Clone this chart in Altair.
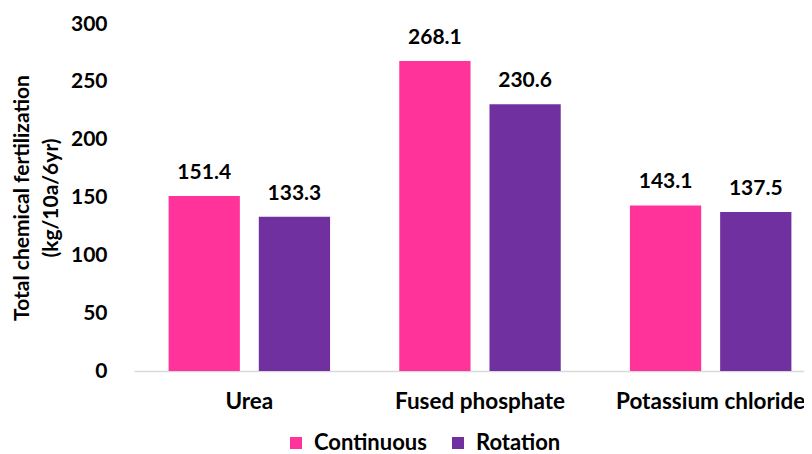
import altair as alt
import pandas as pd

categories = ["Urea", "Fused phosphate", "Potassium chloride"]
continuous = [151.4, 268.1, 143.1]
rotation = [133.3, 230.6, 137.5]
series = ["Continuous", "Rotation"]
colors = ["#FF3399", "#7030A0"]

rows = []
for i, c in enumerate(categories):
    rows.append({"cat": c, "series": "Continuous", "value": continuous[i]})
    rows.append({"cat": c, "series": "Rotation", "value": rotation[i]})
df = pd.DataFrame(rows)

FONT = "Lato"

base = alt.Chart(df).encode(
    x=alt.X("cat:N", sort=categories,
            scale=alt.Scale(paddingInner=0.3, paddingOuter=0.15, range=[0, 692]),
            axis=alt.Axis(title=None, labelAngle=0, ticks=False, domainColor="#D9D9D9",
                          domainWidth=1.5, labelPadding=19, labelFontSize=22.5,
                          labelLimit=400,
                          labelFont=FONT, labelFontWeight="bold", labelColor="#000000")),
    xOffset=alt.XOffset("series:N", sort=series, scale=alt.Scale(paddingInner=0.21)),
)

bars = base.mark_bar().encode(
    y=alt.Y("value:Q", scale=alt.Scale(domain=[0, 300], nice=False),
            axis=alt.Axis(values=[0, 50, 100, 150, 200, 250, 300], grid=False, domain=False,
                          ticks=False, labelPadding=27, labelFontSize=21, labelFont=FONT,
                          labelFontWeight="bold", labelColor="#000000",
                          title=["Total chemical fertilization", "(kg/10a/6yr)"],
                          titleFont=FONT, titleFontSize=21, titleFontWeight="bold",
                          titleLineHeight=29, titleColor="#000000", titlePadding=9)),
    color=alt.Color("series:N", sort=series,
                    scale=alt.Scale(domain=series, range=colors),
                    legend=alt.Legend(title=None, orient="none", direction="horizontal",
                                      legendX=151, legendY=408, symbolType="square",
                                      symbolSize=144, symbolStrokeWidth=0,
                                      labelFont=FONT, labelFontSize=22, labelOffset=7,
                                      labelFontWeight="bold", columnPadding=20,
                                      labelColor="#000000")),
)

labels = base.mark_text(baseline="bottom", dy=-13, font=FONT, fontSize=21,
                        fontWeight="bold", color="#000000").encode(
    y=alt.Y("value:Q"),
    text=alt.Text("value:Q", format=".1f"),
)

chart = (bars + labels).properties(
    width=670, height=347,
    autosize=alt.AutoSizeParams(type="none"),
    padding={"left": 126, "top": 16, "right": 0, "bottom": 83},
).configure_view(stroke=None)

chart.save("out.html", embed_options={"renderer": "svg", "actions": False})
